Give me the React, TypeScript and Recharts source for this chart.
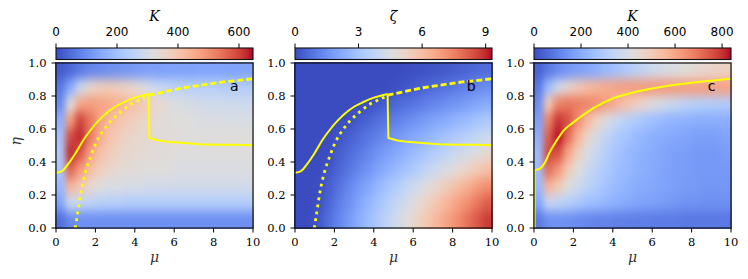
import React from 'react';
import { ComposedChart, Scatter, Line, XAxis, YAxis, ReferenceDot } from 'recharts';

// grid cell centres (mu across, eta from top row to bottom row)
const MU = [0.25, 0.75, 1.25, 1.75, 2.25, 2.75, 3.25, 3.75, 4.25, 4.75, 5.25, 5.75, 6.25, 6.75, 7.25, 7.75, 8.25, 8.75, 9.25, 9.75];
const ETA = [0.95, 0.85, 0.75, 0.65, 0.55, 0.45, 0.35, 0.25, 0.15, 0.05];

// panel a: K
const K_A = [
  [20, 40, 65, 85, 95, 105, 110, 115, 125, 130, 130, 135, 135, 135, 140, 140, 140, 140, 140, 140],
  [65, 150, 280, 345, 375, 385, 375, 360, 335, 300, 275, 260, 250, 245, 240, 240, 240, 235, 235, 235],
  [95, 330, 460, 480, 470, 455, 440, 420, 400, 370, 345, 330, 315, 305, 295, 290, 290, 285, 285, 285],
  [160, 480, 600, 540, 470, 430, 405, 380, 365, 350, 335, 330, 325, 325, 315, 315, 315, 310, 310, 310],
  [205, 590, 625, 530, 455, 405, 380, 360, 350, 340, 335, 330, 330, 325, 325, 325, 325, 325, 325, 325],
  [225, 625, 575, 475, 415, 380, 360, 350, 340, 335, 330, 330, 325, 325, 325, 325, 325, 325, 325, 325],
  [215, 560, 480, 415, 375, 355, 340, 335, 330, 325, 325, 325, 315, 315, 315, 315, 315, 315, 315, 315],
  [180, 440, 390, 350, 325, 315, 310, 305, 305, 295, 295, 295, 295, 295, 295, 295, 295, 295, 295, 295],
  [140, 285, 265, 255, 245, 240, 240, 235, 235, 235, 235, 235, 235, 235, 235, 235, 235, 235, 235, 235],
  [50, 95, 105, 105, 105, 105, 105, 105, 105, 105, 105, 105, 105, 105, 105, 105, 105, 105, 105, 105],
];

// panel b: zeta
const ZETA_B = [
  [0, 0, 0, 0, 0, 0, 0, 0, 0, 0, 0, 0.05, 0.1, 0.15, 0.2, 0.3, 0.4, 0.5, 0.6, 0.7],
  [0, 0, 0, 0, 0, 0, 0, 0, 0, 0, 0.1, 0.25, 0.4, 0.55, 0.7, 0.85, 1.0, 1.15, 1.3, 1.45],
  [0, 0, 0, 0, 0, 0, 0, 0.05, 0.25, 0.4, 0.6, 0.75, 0.95, 1.15, 1.3, 1.5, 1.65, 1.85, 2.05, 2.2],
  [0, 0, 0, 0, 0, 0.05, 0.3, 0.5, 0.75, 0.95, 1.15, 1.4, 1.6, 1.85, 2.05, 2.25, 2.5, 2.7, 2.95, 3.15],
  [0, 0, 0, 0, 0.15, 0.4, 0.65, 0.9, 1.15, 1.45, 1.7, 1.95, 2.2, 2.45, 2.75, 3.0, 3.25, 3.5, 3.75, 4.05],
  [0, 0, 0, 0.05, 0.35, 0.65, 0.95, 1.25, 1.6, 1.9, 2.2, 2.5, 2.8, 3.15, 3.45, 3.75, 4.05, 4.35, 4.7, 5.0],
  [0, 0, 0, 0.2, 0.55, 0.9, 1.25, 1.6, 2.0, 2.35, 2.7, 3.05, 3.4, 3.8, 4.15, 4.5, 4.85, 5.2, 5.6, 5.95],
  [0, 0, 0.05, 0.4, 0.8, 1.25, 1.7, 2.1, 2.55, 3.0, 3.4, 3.85, 4.25, 4.7, 5.1, 5.55, 6.0, 6.4, 6.85, 7.25],
  [0, 0, 0.1, 0.55, 1.05, 1.5, 2.0, 2.45, 2.95, 3.4, 3.9, 4.35, 4.85, 5.3, 5.8, 6.25, 6.75, 7.2, 7.7, 8.15],
  [0, 0, 0.25, 0.75, 1.25, 1.75, 2.25, 2.75, 3.25, 3.75, 4.25, 4.75, 5.25, 5.75, 6.25, 6.75, 7.25, 7.75, 8.25, 8.75],
];

// panel c: K
const K_C = [
  [40, 85, 125, 150, 170, 185, 210, 235, 265, 295, 325, 350, 375, 395, 410, 425, 440, 455, 465, 475],
  [85, 250, 375, 455, 505, 540, 570, 595, 610, 620, 625, 630, 630, 630, 625, 625, 620, 620, 615, 615],
  [125, 505, 670, 695, 685, 670, 650, 615, 570, 525, 480, 440, 405, 375, 350, 330, 315, 305, 300, 295],
  [170, 670, 795, 755, 655, 555, 470, 400, 350, 315, 290, 265, 245, 230, 220, 215, 205, 205, 205, 205],
  [210, 735, 830, 710, 570, 460, 385, 330, 290, 265, 240, 220, 205, 195, 190, 180, 170, 170, 170, 180],
  [250, 770, 755, 605, 485, 400, 345, 300, 265, 240, 220, 205, 190, 180, 170, 165, 155, 155, 155, 165],
  [250, 710, 630, 505, 420, 360, 320, 285, 250, 235, 215, 200, 190, 180, 170, 165, 155, 155, 155, 155],
  [235, 570, 505, 420, 370, 325, 295, 260, 235, 220, 200, 195, 185, 175, 170, 160, 160, 150, 150, 150],
  [185, 350, 335, 310, 285, 260, 245, 225, 210, 195, 185, 175, 170, 160, 150, 140, 140, 135, 135, 135],
  [85, 135, 140, 135, 125, 115, 110, 110, 100, 100, 95, 95, 90, 90, 90, 85, 85, 85, 85, 85],
];

// yellow curves (a and b share them)
const RISE_AB = [
  { mu: 0, eta: 0.335 }, { mu: 0.3, eta: 0.345 }, { mu: 0.6, eta: 0.385 }, { mu: 1.0, eta: 0.455 },
  { mu: 1.4, eta: 0.535 }, { mu: 1.8, eta: 0.6 }, { mu: 2.2, eta: 0.655 }, { mu: 2.6, eta: 0.7 },
  { mu: 3.0, eta: 0.735 }, { mu: 3.5, eta: 0.765 }, { mu: 4.0, eta: 0.79 }, { mu: 4.4, eta: 0.803 },
  { mu: 4.7, eta: 0.812 },
];
const DROP_AB = [
  { mu: 4.7, eta: 0.812 }, { mu: 4.74, eta: 0.545 }, { mu: 5.2, eta: 0.53 }, { mu: 5.7, eta: 0.522 },
  { mu: 6.5, eta: 0.515 }, { mu: 7.3, eta: 0.508 }, { mu: 8.2, eta: 0.505 }, { mu: 9.1, eta: 0.504 },
  { mu: 10, eta: 0.502 },
];
const DOTTED_AB = [
  { mu: 0.98, eta: 0 }, { mu: 1.1, eta: 0.09 }, { mu: 1.27, eta: 0.22 }, { mu: 1.5, eta: 0.34 },
  { mu: 1.75, eta: 0.43 }, { mu: 2.05, eta: 0.52 }, { mu: 2.4, eta: 0.59 }, { mu: 2.8, eta: 0.65 },
  { mu: 3.3, eta: 0.705 }, { mu: 3.8, eta: 0.75 }, { mu: 4.3, eta: 0.78 }, { mu: 4.7, eta: 0.8 },
];
const DASHED_AB = [
  { mu: 4.7, eta: 0.805 }, { mu: 5.5, eta: 0.825 }, { mu: 6.5, eta: 0.85 }, { mu: 7.5, eta: 0.868 },
  { mu: 8.5, eta: 0.885 }, { mu: 9.3, eta: 0.895 }, { mu: 10, eta: 0.905 },
];
const STEM_C = [{ mu: 0.03, eta: 0 }, { mu: 0.03, eta: 0.35 }];
const RISE_C = [
  { mu: 0.03, eta: 0.35 }, { mu: 0.3, eta: 0.36 }, { mu: 0.55, eta: 0.395 }, { mu: 0.8, eta: 0.46 },
  { mu: 1.1, eta: 0.52 }, { mu: 1.5, eta: 0.59 }, { mu: 2.0, eta: 0.64 }, { mu: 2.5, eta: 0.685 },
  { mu: 3.0, eta: 0.725 }, { mu: 4.0, eta: 0.785 }, { mu: 5.0, eta: 0.82 }, { mu: 6.0, eta: 0.845 },
  { mu: 7.0, eta: 0.865 }, { mu: 8.0, eta: 0.88 }, { mu: 9.0, eta: 0.893 }, { mu: 10, eta: 0.905 },
];

const X_TICKS = [0, 2, 4, 6, 8, 10];
const Y_TICKS = [0, 0.2, 0.4, 0.6, 0.8, 1.0];
const CB_TICKS_A = [0, 200, 400, 600];
const CB_TICKS_B = [0, 3, 6, 9];
const CB_TICKS_C = [0, 200, 400, 600, 800];

// centre of the axes box, used to draw the black frame
const FRAME = [{ mu: 5, eta: 0.5 }];

// matplotlib coolwarm, 33 samples
const COOLWARM = [
  [59, 76, 192], [68, 90, 204], [77, 104, 215], [87, 117, 225], [98, 130, 234], [108, 142, 241],
  [119, 154, 247], [130, 165, 251], [141, 176, 254], [152, 185, 255], [163, 194, 255], [174, 201, 253],
  [184, 208, 249], [194, 213, 244], [204, 217, 238], [213, 219, 230], [221, 221, 221], [229, 216, 209],
  [236, 211, 197], [241, 204, 185], [245, 196, 173], [247, 187, 160], [247, 177, 148], [247, 166, 135],
  [244, 154, 123], [241, 141, 111], [236, 127, 99], [229, 112, 88], [222, 96, 77], [213, 80, 66],
  [203, 62, 56], [192, 40, 47], [180, 4, 38],
];

function coolwarm(t: number) {
  const x = Math.min(1, Math.max(0, t)) * 32;
  const i = Math.min(31, Math.floor(x));
  const f = x - i;
  const a = COOLWARM[i], b = COOLWARM[i + 1];
  const c = a.map((v, k) => Math.round(v + (b[k] - v) * f));
  return `rgb(${c[0]},${c[1]},${c[2]})`;
}

// layout
const H = 279;
const CB_CHART_H = 61, HEAT_TOP = 50;
const PT = 63, PH = 165, PW = 197;
const XH = 34;
const CB_TOP = 48, CB_H = 11.5, CBX_H = 26;
const CW = PW / MU.length, CH = PH / ETA.length;

const SERIF = 'DejaVu Serif';
const SANS = 'DejaVu Sans';
const YELLOW = '#ffff00';
const TICK = { fill: '#000', fontSize: 11.5, fontFamily: SERIF };
const TICK_LINE = { stroke: '#000', strokeWidth: 1 };

const PANELS = [
  { key: 'a', x0: 0, width: 262, plotLeft: 56, yw: 40, grid: K_A, vmax: 646, cbTicks: CB_TICKS_A, cbLabel: 'K', letterMu: 9.05, etaLabel: true },
  { key: 'b', x0: 262, width: 239, plotLeft: 33, yw: 33, grid: ZETA_B, vmax: 9.3, cbTicks: CB_TICKS_B, cbLabel: 'ζ', letterMu: 8.95, etaLabel: false },
  { key: 'c', x0: 501, width: 247, plotLeft: 33, yw: 33, grid: K_C, vmax: 838, cbTicks: CB_TICKS_C, cbLabel: 'K', letterMu: 9.02, etaLabel: false },
];

type Panel = typeof PANELS[number];

function HeatPanel({ p }: { p: Panel }) {
  const cells = p.grid.flatMap((row, r) => row.map((v, c) => ({ mu: MU[c], eta: ETA[r], v })));
  const cellShape = (props: any) => (
    <rect
      x={props.cx - CW / 2 - 0.5}
      y={props.cy - CH / 2 - 0.5}
      width={CW + 1}
      height={CH + 1}
      fill={coolwarm(props.payload.v / p.vmax)}
    />
  );
  const frameShape = (props: any) => (
    <rect x={props.cx - PW / 2} y={props.cy - PH / 2} width={PW} height={PH} fill="none" stroke="#111" strokeWidth={1.2} />
  );
  const chartH = H - HEAT_TOP;
  const top = PT - HEAT_TOP;
  const margin = { top, bottom: chartH - top - PH - XH, left: p.plotLeft - p.yw, right: p.width - p.plotLeft - PW };
  const lineProps = { dataKey: 'eta', stroke: YELLOW, dot: false, isAnimationActive: false, zIndex: 700 } as any;
  return (
    <ComposedChart width={p.width} height={chartH} margin={margin}>
      <XAxis
        dataKey="mu" type="number" domain={[0, 10]} ticks={X_TICKS} interval={0} height={XH}
        axisLine={false} tickSize={4.5} tickMargin={5} tickLine={TICK_LINE} tick={TICK}
        label={{ value: 'μ', position: 'insideBottom', offset: 0, fill: '#333', fontSize: 14, fontFamily: SERIF, fontStyle: 'italic' }}
      />
      <YAxis
        dataKey="eta" type="number" domain={[0, 1]} ticks={Y_TICKS} interval={0} width={p.yw}
        axisLine={false} tickSize={4.5} tickMargin={5} tickLine={TICK_LINE} tick={TICK}
        tickFormatter={(v: number) => v.toFixed(1)}
        label={p.etaLabel ? { value: 'η', angle: -90, position: 'insideLeft', offset: 0, fill: '#333', fontSize: 14, fontFamily: SERIF, fontStyle: 'italic' } : undefined}
      />
      <Scatter data={cells} className="heat" shape={cellShape} isAnimationActive={false} zIndex={0} />
      {p.key !== 'c' && <Line {...lineProps} data={DOTTED_AB} type="monotone" strokeWidth={2.8} strokeDasharray="2.8 4.2" />}
      {p.key !== 'c' && <Line {...lineProps} data={DASHED_AB} type="monotone" strokeWidth={2.8} strokeDasharray="6 3" />}
      {p.key !== 'c' && <Line {...lineProps} data={RISE_AB} type="monotone" strokeWidth={2} />}
      {p.key !== 'c' && <Line {...lineProps} data={DROP_AB} type="linear" strokeWidth={2} />}
      {p.key === 'c' && <Line {...lineProps} data={STEM_C} type="linear" strokeWidth={2} />}
      {p.key === 'c' && <Line {...lineProps} data={RISE_C} type="monotone" strokeWidth={2} />}
      <Scatter data={FRAME} shape={frameShape} isAnimationActive={false} zIndex={800} />
      <ReferenceDot
        x={p.letterMu} y={0.862} r={0} fill="none" stroke="none" zIndex={900}
        label={{ value: p.key, position: 'center', fill: '#000', fontSize: 14, fontFamily: SANS }}
      />
    </ComposedChart>
  );
}

function ColorBar({ p }: { p: Panel }) {
  const bar = [{ v: p.vmax / 2, y: 0.5 }];
  const margin = { top: CB_TOP - CBX_H, bottom: CB_CHART_H - CB_TOP - CB_H, left: p.plotLeft, right: p.width - p.plotLeft - PW };
  const barShape = (props: any) => (
    <rect
      x={props.cx - PW / 2} y={props.cy - CB_H / 2} width={PW} height={CB_H}
      fill="url(#cwGrad)" stroke="#111" strokeWidth={1.1}
    />
  );
  return (
    <ComposedChart width={p.width} height={CB_CHART_H} margin={margin}>
      <XAxis
        dataKey="v" type="number" orientation="top" domain={[0, p.vmax]} ticks={p.cbTicks} interval={0}
        height={CBX_H} axisLine={false} tickSize={4.5} tickMargin={8}
        tick={{ fill: '#000', fontSize: 12, fontFamily: SANS }} tickLine={TICK_LINE}
        label={{ value: p.cbLabel, position: 'top', offset: 1.5, fill: '#000', fontSize: 14, fontFamily: SERIF, fontStyle: 'italic' }}
      />
      <YAxis dataKey="y" type="number" domain={[0, 1]} hide />
      <Scatter data={bar} shape={barShape} isAnimationActive={false} />
    </ComposedChart>
  );
}

export default function App() {
  return (
    <div style={{ position: 'absolute', left: 0, top: 0, width: 748, height: H, background: '#fff' }}>
      <style>{'.heat { filter: url(#heatBlur); }'}</style>
      <svg width={0} height={0} style={{ position: 'absolute' }}>
        <defs>
          <linearGradient id="cwGrad" x1="0" y1="0" x2="1" y2="0">
            {COOLWARM.map((c, i) => (
              <stop key={i} offset={i / 32} stopColor={`rgb(${c[0]},${c[1]},${c[2]})`} />
            ))}
          </linearGradient>
          <filter id="heatBlur" x="0" y="0" width="1" height="1" colorInterpolationFilters="sRGB">
            <feGaussianBlur stdDeviation="3.2 5.5" />
            <feComponentTransfer>
              <feFuncA type="linear" slope="50" intercept="0" />
            </feComponentTransfer>
          </filter>
        </defs>
      </svg>
      {PANELS.map((p) => (
        <div key={p.key} style={{ position: 'absolute', left: p.x0, top: 0, width: p.width, height: H }}>
          <div style={{ position: 'absolute', left: 0, top: 0 }}>
            <ColorBar p={p} />
          </div>
          <div style={{ position: 'absolute', left: 0, top: HEAT_TOP }}>
            <HeatPanel p={p} />
          </div>
        </div>
      ))}
    </div>
  );
}
